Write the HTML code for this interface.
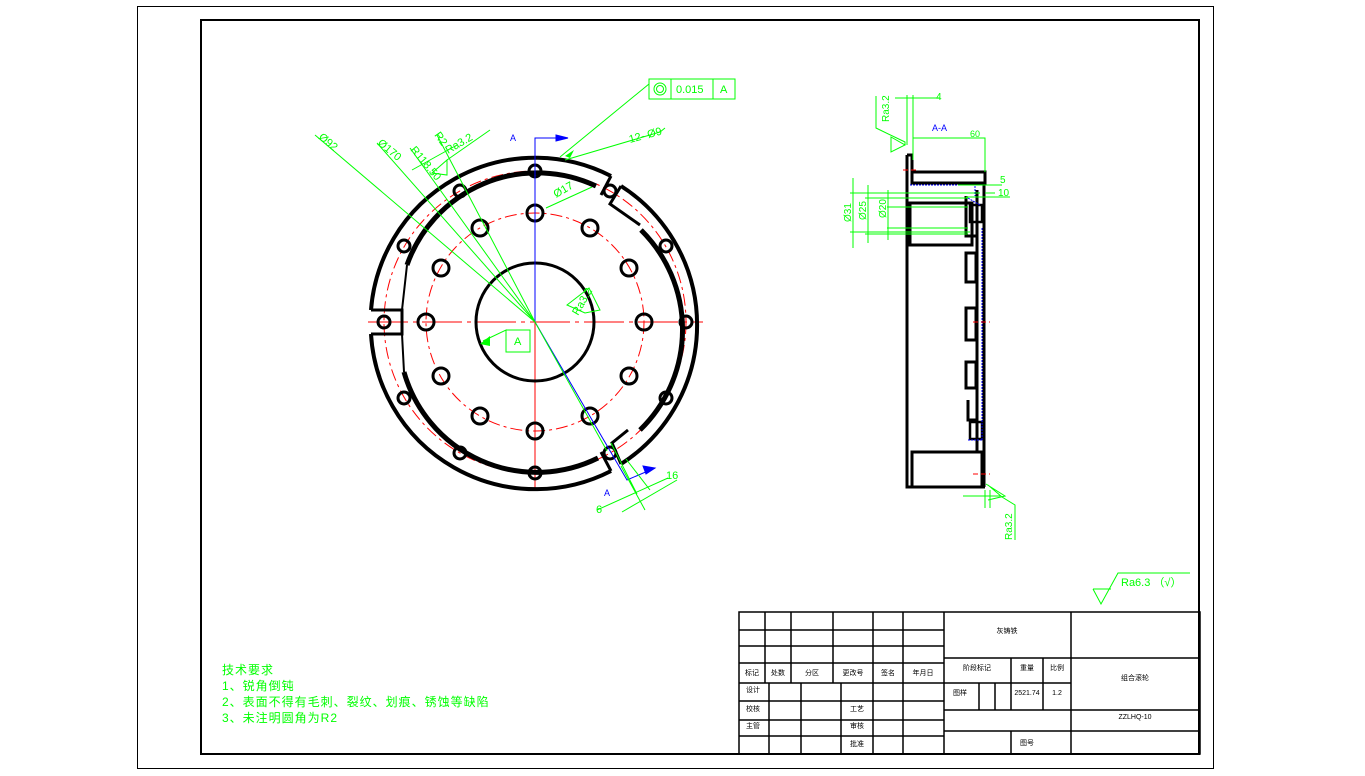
<!DOCTYPE html>
<html><head><meta charset="utf-8"><style>
html,body{margin:0;padding:0;background:#fff;}
svg{display:block;}
text{font-family:"Liberation Sans","Noto Sans CJK SC",sans-serif;}
</style></head><body>
<svg width="1365" height="776" viewBox="0 0 1365 776" xmlns="http://www.w3.org/2000/svg">
<rect x="137.5" y="6.5" width="1076" height="762" fill="none" stroke="#000" stroke-width="1"/>
<rect x="201" y="20" width="998" height="734" fill="none" stroke="#000" stroke-width="2"/>

<!-- MAIN VIEW -->
<g fill="none">
  <line x1="368" y1="322" x2="703" y2="322" stroke="#f00" stroke-width="1" stroke-dasharray="40,5,4,5"/>
  <line x1="535" y1="140" x2="535" y2="488" stroke="#f00" stroke-width="1"/>
  <circle cx="535" cy="322" r="151" stroke="#f00" stroke-width="1" stroke-dasharray="12,4,3,4"/>
  <circle cx="535" cy="322" r="109" stroke="#f00" stroke-width="1" stroke-dasharray="12,4,3,4"/>
  <path d="M371 310 A165 165 0 0 1 611 176 M621 186 A165 165 0 0 1 621 464 M611 471 A165 165 0 0 1 371 334" stroke="#000" stroke-width="4"/>
  <path d="M371 310 L402 310 L402 334 L371 334" stroke="#000" stroke-width="3"/>
  <path d="M611 176 L601 195 M621 186 L610 204 L640 225" stroke="#000" stroke-width="3"/>
  <path d="M611 471 L601 452 M621 464 L612 443 L628 430" stroke="#000" stroke-width="3"/>
  <path d="M407 265 A138 138 0 0 1 596 186 M404 372 A138 138 0 0 0 598 458" stroke="#000" stroke-width="5"/>
  <path d="M407 265 L402 310 M404 372 L402 334" stroke="#000" stroke-width="2"/>
  <path d="M641 230 A140 140 0 0 1 640 430" stroke="#000" stroke-width="5"/>
  <circle cx="535" cy="322" r="59" stroke="#000" stroke-width="3"/>
  <g stroke="#000" stroke-width="3">
    <circle cx="686" cy="322" r="6"/><circle cx="666" cy="246" r="6"/><circle cx="610" cy="191" r="6"/>
    <circle cx="535" cy="171" r="6"/><circle cx="460" cy="191" r="6"/><circle cx="404" cy="246" r="6"/>
    <circle cx="384" cy="322" r="6"/><circle cx="404" cy="398" r="6"/><circle cx="460" cy="453" r="6"/>
    <circle cx="535" cy="473" r="6"/><circle cx="610" cy="453" r="6"/><circle cx="666" cy="398" r="6"/>
    <circle cx="644" cy="322" r="8"/><circle cx="629" cy="268" r="8"/><circle cx="590" cy="228" r="8"/>
    <circle cx="535" cy="213" r="8"/><circle cx="480" cy="228" r="8"/><circle cx="441" cy="268" r="8"/>
    <circle cx="426" cy="322" r="8"/><circle cx="441" cy="376" r="8"/><circle cx="480" cy="416" r="8"/>
    <circle cx="535" cy="431" r="8"/><circle cx="590" cy="416" r="8"/><circle cx="629" cy="376" r="8"/>
  </g>
  <path d="M535 322 L535 138 L568 138" stroke="#00f" stroke-width="1"/>
  <path d="M556 135 L568 138 L556 141 Z" fill="#00f" stroke="#00f"/>
  <path d="M535 322 L627 480 L655 468" stroke="#00f" stroke-width="1"/>
  <path d="M643 466 L655 468 L646 474 Z" fill="#00f" stroke="#00f"/>
  <g stroke="#0f0" stroke-width="1">
    <line x1="535" y1="322" x2="315" y2="135"/>
    <line x1="535" y1="322" x2="377" y2="143"/>
    <line x1="535" y1="322" x2="410" y2="148"/>
    <line x1="535" y1="322" x2="437" y2="135"/>
    <line x1="535" y1="322" x2="607" y2="451"/>
    <line x1="457" y1="145" x2="412" y2="170"/>
    <path d="M432 173 L447 160 L447 175 Z M447 160 L490 130"/>
    <path d="M649 84 L560 157 M565 160 L660 132 L665 128"/>
    <line x1="592" y1="187" x2="546" y2="208"/>
    <path d="M483 341 L506 330 L506 352 L530 352 L530 330 L506 330"/>
    <path d="M567 305 L589 288 L600 310 L585 313 Z"/>
    <path d="M611 443 L637 494 M626 459 L650 490 M621 466 L645 510 M597 510 L668 478 M622 512 L677 480"/>
  </g>
  <path d="M480 344 L490 336 L490 346 Z" fill="#0f0"/>
  <path d="M565 156 L574 150 L570 158 Z" fill="#0f0"/>
  <rect x="649" y="79" width="86" height="20" stroke="#0f0" stroke-width="1"/>
  <line x1="671" y1="79" x2="671" y2="99" stroke="#0f0"/>
  <line x1="713" y1="79" x2="713" y2="99" stroke="#0f0"/>
  <circle cx="660" cy="89" r="6" stroke="#0f0"/><circle cx="660" cy="89" r="3.5" stroke="#0f0"/>
</g>
<g fill="#0f0" font-size="11">
  <text x="676" y="93">0.015</text>
  <text x="720" y="93">A</text>
  <text x="514" y="345">A</text>
  <text x="630" y="143" transform="rotate(-15 630 143)">12- Ø9</text>
  <text x="318" y="138" transform="rotate(40 318 138)">Ø92</text>
  <text x="377" y="144" transform="rotate(40 377 144)">Ø170</text>
  <text x="410" y="150" transform="rotate(50 410 150)">R118.50</text>
  <text x="434" y="135" transform="rotate(55 434 135)">R2</text>
  <text x="448" y="154" transform="rotate(-30 448 154)">Ra3.2</text>
  <text x="578" y="316" transform="rotate(-60 578 316)">Ra3.2</text>
  <text x="556" y="198" transform="rotate(-30 556 198)">Ø17</text>
  <text x="596" y="513">6</text>
  <text x="666" y="479">16</text>
</g>
<g fill="#00f" font-size="9"><text x="510" y="141">A</text><text x="604" y="496">A</text><text x="932" y="131">A-A</text></g>

<!-- SIDE VIEW -->
<g fill="none" stroke="#000">
  <path d="M907 155 L907 487 L985 487 M907 155 L912 155 L912 183" stroke-width="3"/>
  <rect x="912" y="172" width="73" height="11" stroke-width="3"/>
  <rect x="910" y="203" width="62" height="42" stroke-width="3"/>
  <rect x="912" y="452" width="70" height="35" stroke-width="3"/>
  <path d="M984 183 L984 487 M977 190 L977 452" stroke-width="3"/>
  <rect x="966" y="253" width="10" height="29" stroke-width="3"/>
  <rect x="966" y="308" width="10" height="32" stroke-width="3"/>
  <rect x="966" y="362" width="10" height="26" stroke-width="3"/>
  <path d="M968 400 L968 420 L977 420 M966 196 L966 236 L977 236" stroke-width="3"/>
  <rect x="970" y="205" width="12" height="17" stroke-width="2.5"/>
  <rect x="970" y="422" width="12" height="17" stroke-width="2.5"/>
  <path d="M910 185 L975 185 L975 196 M968 198 L980 205 M982 228 L982 440 M968 440 L982 440" stroke="#00f" stroke-width="1" stroke-dasharray="2,1"/>
  <path d="M903 170 L918 170 M973 322 L990 322 M973 474 L990 474" stroke="#f00" stroke-width="1" stroke-dasharray="5,3"/>
</g>
<g stroke="#0f0" stroke-width="1" fill="none">
  <path d="M907 145 L907 95 M913 160 L913 95 M895 98 L940 98"/>
  <path d="M876 96 L876 128 L905 142 L905 145 M891 137 L905 145 L891 152 Z"/>
  <path d="M913 138 L985 138 L985 172"/>
  <path d="M958 185 L1002 185 M966 197 L1010 197 M985 193 L995 193"/>
  <path d="M850 193 L980 193 M850 232 L970 232 M865 198 L968 198 M865 234 L968 234 M887 207 L968 207 M887 228 L968 228"/>
  <path d="M853 178 L853 248 M868 185 L868 243 M888 190 L888 240"/>
  <path d="M985 490 L985 508 M990 490 L990 508 M963 496 L1000 496 M988 485 L1002 497 L1015 505 L1015 540 M986 484 L1005 496 L988 500"/>
</g>
<g fill="#0f0" font-size="10">
  <text x="936" y="100">4</text>
  <text x="970" y="137" font-size="9">60</text>
  <text x="1000" y="183">5</text>
  <text x="998" y="196">10</text>
  <text x="889" y="122" transform="rotate(-90 889 122)">Ra3.2</text>
  <text x="851" y="222" transform="rotate(-90 851 222)">Ø31</text>
  <text x="866" y="220" transform="rotate(-90 866 220)">Ø25</text>
  <text x="886" y="218" transform="rotate(-90 886 218)">Ø20</text>
  <text x="1012" y="540" transform="rotate(-90 1012 540)">Ra3.2</text>
</g>

<g stroke="#0f0" fill="none" stroke-width="1">
  <path d="M1093 589 L1101 604 L1118 573 L1190 573 M1093 589 L1111 589"/>
</g>
<text x="1121" y="586" fill="#0f0" font-size="11">Ra6.3 （√）</text>

<g fill="#0f0" font-size="12" style="letter-spacing:1px">
  <text x="222" y="674">技术要求</text>
  <text x="222" y="690">1、锐角倒钝</text>
  <text x="222" y="706">2、表面不得有毛刺、裂纹、划痕、锈蚀等缺陷</text>
  <text x="222" y="722">3、未注明圆角为R2</text>
</g>

<g stroke="#000" stroke-width="1.5" fill="none">
  <rect x="739" y="612" width="461" height="142"/>
  <path d="M739 630 H944 M739 646 H944 M739 663 H944 M739 683 H944 M739 701 H944 M739 720 H944 M739 736 H944"/>
  <path d="M765 612 V683 M791 612 V683 M833 612 V683 M873 612 V754 M903 612 V754 M944 612 V754"/>
  <path d="M769 683 V754 M801 683 V754 M841 683 V754"/>
  <path d="M944 658 H1200 M944 710 H1200 M944 731 H1200 M1071 612 V754"/>
  <path d="M1011 658 V710 M1043 658 V710 M979 683 V710 M995 683 V710 M944 683 H1071 M1011 731 V754"/>
</g>
<g fill="#000" font-size="7" text-anchor="middle">
  <text x="1007" y="633">灰铸铁</text>
  <text x="752" y="675">标记</text><text x="778" y="675">处数</text><text x="812" y="675">分区</text>
  <text x="853" y="675">更改号</text><text x="888" y="675">签名</text><text x="923" y="675">年月日</text>
  <text x="753" y="692">设计</text><text x="753" y="711">校核</text><text x="753" y="728">主管</text>
  <text x="857" y="711">工艺</text><text x="857" y="728">审核</text><text x="857" y="746">批准</text>
  <text x="977" y="670">阶段标记</text><text x="1027" y="670">重量</text><text x="1057" y="670">比例</text>
  <text x="960" y="695">图样</text><text x="1027" y="695">2521.74</text><text x="1057" y="695">1.2</text>
  <text x="1135" y="680">组合滚轮</text><text x="1135" y="719">ZZLHQ-10</text>
  <text x="1027" y="745">图号</text>
</g>
</svg>
</body></html>
